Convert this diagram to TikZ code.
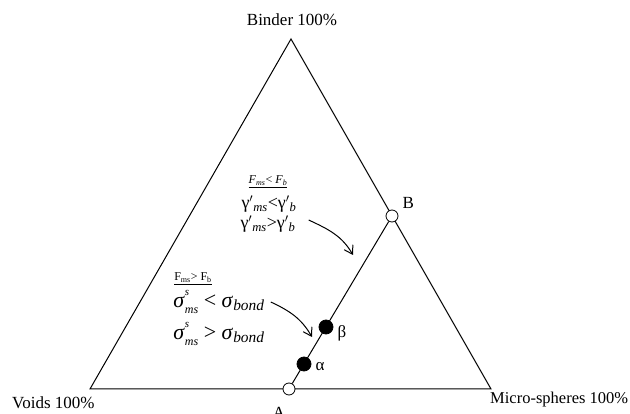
\documentclass[tikz,border=0pt]{standalone}
\usepackage{fontspec}
\setmainfont{Liberation Serif}
\usetikzlibrary{positioning,arrows.meta}

\newcommand{\subit}[1]{\textsubscript{\textit{#1}}}
\newcommand{\sigms}{\textit{σ}\rlap{\raisebox{0.55em}{\fontsize{11}{11}\selectfont\textit{s}}}\raisebox{-0.3em}{\fontsize{12}{12}\selectfont\textit{ms}}}

\begin{document}
\begin{tikzpicture}[
    x=1pt, y=-1pt,
    font=\fontsize{17}{20}\selectfont,
    side/.style={line width=1pt},
    joint/.style={
        circle,
        draw,
        line width=0.8pt,
        inner sep=0pt,
        minimum size=12pt
    },
    openjoint/.style={joint, fill=white},
    fulljoint/.style={joint, fill=black, minimum size=14pt},
    cond/.style={inner sep=0pt, font=\fontsize{12}{14}\selectfont},
    rel/.style={inner sep=0pt, font=\fontsize{18}{20}\selectfont},
    relbig/.style={inner sep=0pt, font=\fontsize{22}{24}\selectfont},
    pointer/.style={-{Straight Barb[length=8pt,width=10pt]}, line width=1pt}
]
\useasboundingbox (0,0) rectangle (630,414);

% Triangle
\coordinate (voids) at (90,389);
\coordinate (micro) at (491,389);
\coordinate (binder) at (291,39);
\draw[side] (voids) -- (micro) -- (binder) -- cycle;

% Corner labels
\node[anchor=base] (binder_lbl) at (292,26) {Binder 100\%};
\node[anchor=base west, inner sep=0pt] (voids_lbl) at (12,409) {Voids 100\%};
\node[anchor=base west, inner sep=0pt, font=\fontsize{16.5}{20}\selectfont] (micro_lbl) at (490,403) {Micro-spheres 100\%};

% Path A -> B
\node[openjoint] (A) at (289,389) {};
\node[openjoint] (B) at (392,216) {};
\draw[side] (A) -- (B);
\node[fulljoint] (alpha) at (304,364) {};
\node[fulljoint] (beta) at (326,327) {};

\node[anchor=base, inner sep=0pt] (A_lbl) at (279,418) {A};
\node[right=4pt of B, yshift=13pt, inner sep=0pt] (B_lbl) {B};
\node[right=4pt of alpha, yshift=-3pt, inner sep=0pt] (alpha_lbl) {α};
\node[right=4pt of beta, yshift=-6pt, inner sep=0pt] (beta_lbl) {β};

% Upper conditions
\node[cond] (f1) at (268,182) {\underline{\textit{F}\subit{ms}< \textit{F}\subit{b}}};
\node[rel] (g1) at (269,204) {γ$'$\subit{ms}<γ$'$\subit{b}};
\node[rel] (g2) at (268,224) {γ$'$\subit{ms}>γ$'$\subit{b}};

% Lower conditions
\node[cond] (f2) at (193,279) {\underline{F\textsubscript{ms}> F\textsubscript{b}}};
\node[relbig] (s1) at (219,302) {\sigms{} < \textit{σ}\subit{bond}};
\node[relbig] (s2) at (219,334) {\sigms{} > \textit{σ}\subit{bond}};

% Pointers
\coordinate (tip1) at (353,255);
\coordinate (tip2) at (312,337);
\draw[pointer] ([xshift=13pt,yshift=4pt]g2.east) to[out=-25,in=120] (tip1);
\draw[pointer] ([xshift=6pt]s1.east) to[out=-25,in=120] (tip2);

\end{tikzpicture}
\end{document}
